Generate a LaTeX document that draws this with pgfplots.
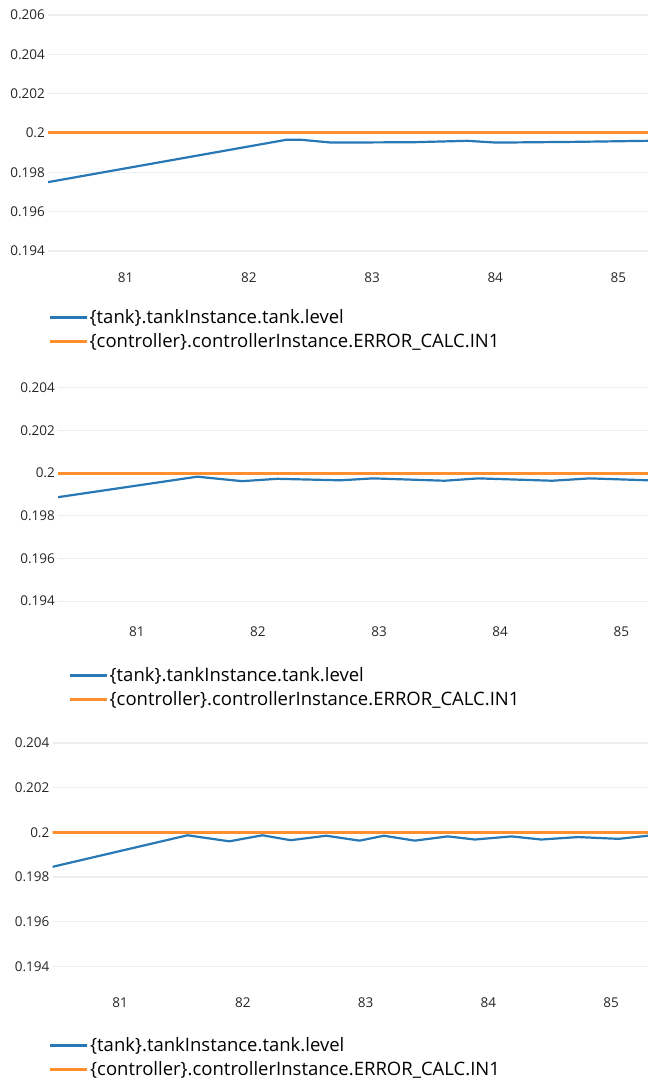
\documentclass[border=0pt]{standalone}
\usepackage{fontspec}
\setmainfont{Open Sans}
\usepackage{pgfplots}
\pgfplotsset{compat=1.18}
\usepackage{pgfplotstable}
\definecolor{cblue}{HTML}{2878B5}
\definecolor{corange}{HTML}{FF8F2E}
\pgfplotstableread{
x y
80.37 0.19750
82.31 0.19966
82.43 0.19965
82.67 0.19951
83.34 0.19953
83.77 0.19960
84.01 0.19951
84.68 0.19955
85.24 0.19960
}\tankA
\pgfplotstableread{
x y
80.35 0.19887
81.50 0.19983
81.87 0.19962
82.16 0.19973
82.68 0.19966
82.95 0.19975
83.54 0.19964
83.82 0.19975
84.43 0.19964
84.74 0.19975
85.22 0.19966
}\tankB
\pgfplotstableread{
x y
80.45 0.19846
81.55 0.19987
81.89 0.19960
82.16 0.19987
82.39 0.19965
82.68 0.19985
82.95 0.19963
83.15 0.19985
83.40 0.19963
83.67 0.19982
83.89 0.19968
84.19 0.19982
84.43 0.19968
84.73 0.19979
85.06 0.19971
85.30 0.19985
}\tankC
\pgfplotstableread{
x y
80.0 0.2
86.0 0.2
}\setpoint
\pgfplotsset{
  panel/.style={
    scale only axis,
    axis line style={draw=none},
    major tick length=0pt,
    ymajorgrids,
    major grid style={draw=black!7, line width=1.3pt},
    xtick={81,82,83,84,85},
    xticklabels={81,82,83,84,85},
    scaled y ticks=false,
    /pgf/number format/assume math mode=true,
    tick label style={font=\fontsize{13.5}{15}\selectfont, text=black!85},
    yticklabel style={anchor=east, inner sep=0pt, xshift=-3pt},
    legend cell align=left,
    legend image code/.code={\draw[##1] (0pt,0pt) -- (33pt,0pt); \path (0pt,0pt) -- (37pt,0pt);},
    legend style={draw=none, fill=none, inner sep=0pt, anchor=north west,
      font=\fontsize{18.5}{21}\selectfont, row sep=5pt,
      nodes={inner sep=1.5pt}},
  },
}
\begin{document}
\begin{tikzpicture}
\useasboundingbox (0,0) rectangle (648pt,1080pt);
% Panel 1
\begin{axis}[panel, at={(48pt,818pt)}, anchor=south west,
  width=600pt, height=262pt,
  xmin=80.37, xmax=85.24, ymin=0.19344, ymax=0.20676,
  ytick={0.194,0.196,0.198,0.2,0.202,0.204,0.206},
  yticklabels={0.194,0.196,0.198,0.2,0.202,0.204,0.206},
  xticklabel style={anchor=center, inner sep=0pt, yshift=-16pt},
  legend style={at={(0,0)}, xshift=0pt, yshift=-46pt}]
\addplot[cblue, line width=2.2pt, line join=round] table[x=x,y=y] {\tankA};
\addlegendentry{\{tank\}.tankInstance.tank.level}
\addplot[corange, line width=3pt] table[x=x,y=y] {\setpoint};
\addlegendentry{\{controller\}.controllerInstance.ERROR\_CALC.IN1}
\end{axis}
% Panel 2
\begin{axis}[panel, at={(58pt,466pt)}, anchor=south west,
  width=590pt, height=252pt,
  xmin=80.35, xmax=85.22, ymin=0.1934, ymax=0.2052,
  ytick={0.194,0.196,0.198,0.2,0.202,0.204},
  yticklabels={0.194,0.196,0.198,0.2,0.202,0.204},
  xticklabel style={anchor=center, inner sep=0pt, yshift=-18pt},
  legend style={at={(0,0)}, xshift=10pt, yshift=-52pt}]
\addplot[cblue, line width=2.2pt, line join=round] table[x=x,y=y] {\tankB};
\addlegendentry{\{tank\}.tankInstance.tank.level}
\addplot[corange, line width=3pt] table[x=x,y=y] {\setpoint};
\addlegendentry{\{controller\}.controllerInstance.ERROR\_CALC.IN1}
\end{axis}
% Panel 3
\begin{axis}[panel, at={(52.5pt,100pt)}, anchor=south west,
  width=595.5pt, height=255pt,
  xmin=80.45, xmax=85.30, ymin=0.1934, ymax=0.2048,
  ytick={0.194,0.196,0.198,0.2,0.202,0.204},
  yticklabels={0.194,0.196,0.198,0.2,0.202,0.204},
  xticklabel style={anchor=center, inner sep=0pt, yshift=-23pt},
  legend style={at={(0,0)}, xshift=-4pt, yshift=-56pt}]
\addplot[cblue, line width=2.2pt, line join=round] table[x=x,y=y] {\tankC};
\addlegendentry{\{tank\}.tankInstance.tank.level}
\addplot[corange, line width=3pt] table[x=x,y=y] {\setpoint};
\addlegendentry{\{controller\}.controllerInstance.ERROR\_CALC.IN1}
\end{axis}
\end{tikzpicture}
\end{document}
